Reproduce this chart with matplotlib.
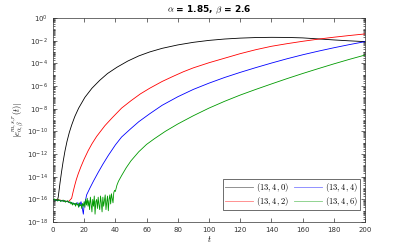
import numpy as np
import matplotlib
matplotlib.use("Agg")
import matplotlib.pyplot as plt
from matplotlib.ticker import FixedLocator, LogLocator, NullFormatter

plt.rcParams['mathtext.fontset'] = 'cm'

# values, as log10 of |e(t)|
black_t = [0, 1, 2, 3, 3.4, 4.5, 5.5, 6.5, 7.7, 9, 10.5, 12, 14, 16.5, 20.5, 25, 30, 35, 41, 48, 55,
           62, 70, 80, 90, 100, 110, 120, 130, 140, 150, 160, 170, 180, 190, 200]
black_log = [-16.0, -16.05, -16.1, -16.0, -15.8, -14.6, -13.6, -12.7, -11.75, -10.9, -10.1, -9.45, -8.7,
             -7.95, -7.0, -6.2, -5.5, -4.9, -4.35, -3.8, -3.35, -3.0, -2.68, -2.38, -2.15, -1.98,
             -1.86, -1.78, -1.73, -1.71, -1.72, -1.76, -1.85, -1.94, -2.02, -2.09]

red_t = [0, 4, 8, 10, 12, 13, 14, 15, 16.2, 18, 20, 22.6, 25, 28, 33.3, 38, 44, 50, 56, 62, 70, 77,
         83.5, 90, 100, 110, 120, 130, 140, 150, 160, 170, 180, 190, 200]
red_log = [-16.0, -16.05, -16.15, -16.2, -15.9, -15.3, -14.75, -14.25, -13.75, -13.1, -12.45, -11.7,
           -11.1, -10.45, -9.5, -8.8, -7.95, -7.3, -6.7, -6.2, -5.6, -5.15, -4.75, -4.4, -3.95, -3.55,
           -3.15, -2.8, -2.5, -2.27, -2.06, -1.87, -1.7, -1.55, -1.41]

blue_t = [0, 4, 8, 12, 14, 16, 17, 18, 19, 19.5, 20, 21, 21.6, 23.7, 26, 29, 32, 35.5, 40, 44, 50, 55,
          62, 70, 80, 90, 100, 110, 120, 130, 140, 150, 160, 170, 180, 190, 200]
blue_log = [-16.0, -16.1, -16.15, -16.3, -16.4, -16.3, -16.6, -16.2, -16.9, -17.3, -16.5, -16.0, -15.6,
            -15.0, -14.38, -13.62, -12.9, -12.12, -11.2, -10.5, -9.75, -9.15, -8.45, -7.7, -6.95,
            -6.3, -5.75, -5.25, -4.8, -4.38, -3.98, -3.6, -3.25, -2.93, -2.63, -2.35, -2.09]

# noisy floor of the green curve, t = 0, 0.5, ..., 39.5
green_noise_t = np.arange(0, 40, 0.5)
green_noise_log = [-16.0, -16.05, -15.95, -16.1, -16.0, -16.05, -16.15, -16.0, -16.1, -16.05,
                   -16.2, -16.1, -16.15, -16.05, -16.2, -16.1, -16.25, -16.15, -16.2, -16.1,
                   -16.25, -16.3, -16.2, -16.4, -16.25, -16.5, -16.3, -16.45, -16.35, -16.6,
                   -16.3, -16.5, -16.4, -16.7, -16.3, -16.55, -16.45, -16.8, -16.35, -16.6,
                   -16.2, -16.7, -16.0, -16.5, -15.9, -16.6, -16.1, -16.9, -15.8, -16.4,
                   -17.1, -16.0, -16.6, -15.7, -17.3, -16.2, -16.0, -16.8, -15.8, -16.5,
                   -16.9, -15.7, -16.3, -17.1, -15.8, -16.6, -16.1, -15.6, -16.9, -16.2,
                   -15.7, -17.0, -16.0, -15.6, -16.4, -15.5, -15.9, -16.3, -15.4, -15.2]
green_t = [40, 41, 42, 44, 47, 50, 55, 60, 65, 72, 80, 90, 100, 110, 120, 130, 140, 150, 160,
           170, 180, 190, 200]
green_log = [-15.3, -14.75, -14.4, -13.9, -13.2, -12.6, -11.8, -11.15, -10.65, -10.0, -9.35, -8.62,
             -7.95, -7.35, -6.8, -6.3, -5.82, -5.35, -4.9, -4.47, -4.05, -3.65, -3.27]

labels = [r'$(13,4,0)$', r'$(13,4,2)$', r'$(13,4,4)$', r'$(13,4,6)$']

fig = plt.figure(figsize=(4.07, 2.49), dpi=100)
ax = fig.add_axes([0.130, 0.108, 0.767, 0.820])

lw = 0.6
ax.plot(black_t, 10.0 ** np.array(black_log), color='k', lw=lw, label=labels[0])
ax.plot(red_t, 10.0 ** np.array(red_log), color='r', lw=lw, label=labels[1])
ax.plot(blue_t, 10.0 ** np.array(blue_log), color='b', lw=lw, label=labels[2])
gt = np.concatenate([green_noise_t, green_t])
gl = np.concatenate([green_noise_log, green_log])
ax.plot(gt, 10.0 ** gl, color='#009a00', lw=lw, label=labels[3])

ax.set_yscale('log')
ax.set_xlim(0, 200)
ax.set_ylim(1e-18, 1e0)
ax.set_xticks(np.arange(0, 201, 20))
ax.yaxis.set_major_locator(FixedLocator(10.0 ** np.arange(-18, 1, 2)))
ax.yaxis.set_minor_locator(LogLocator(base=10, subs=np.arange(1, 10), numticks=100))
ax.yaxis.set_minor_formatter(NullFormatter())
ax.tick_params(which='both', direction='in', top=True, right=True, labelsize=5, width=0.5,
               colors='#333333')
ax.tick_params(which='major', length=3)
ax.tick_params(which='minor', length=1.5)
for s in ax.spines.values():
    s.set_linewidth(0.5)
    s.set_color('#333333')

ax.set_xlabel(r'$t$', fontsize=6, labelpad=1)
ax.set_ylabel(r'$|e^{m,s,r}_{\alpha,\beta}(t)|$', fontsize=6, labelpad=1)
ax.set_title(r'$\alpha$ = 1.85, $\beta$ = 2.6', fontsize=6.5, fontweight='bold', pad=4)

leg = ax.legend(ncol=2, loc='lower right', bbox_to_anchor=(0.985, 0.06), fontsize=6.2,
                frameon=True, fancybox=False, edgecolor='#333333', framealpha=1,
                handlelength=3.2, columnspacing=0.6, handletextpad=0.4, borderpad=0.25,
                labelspacing=0.05, borderaxespad=0)
leg.get_frame().set_linewidth(0.5)
for h in leg.get_lines():
    h.set_alpha(0.5)

fig.savefig('out.png', dpi=100)
